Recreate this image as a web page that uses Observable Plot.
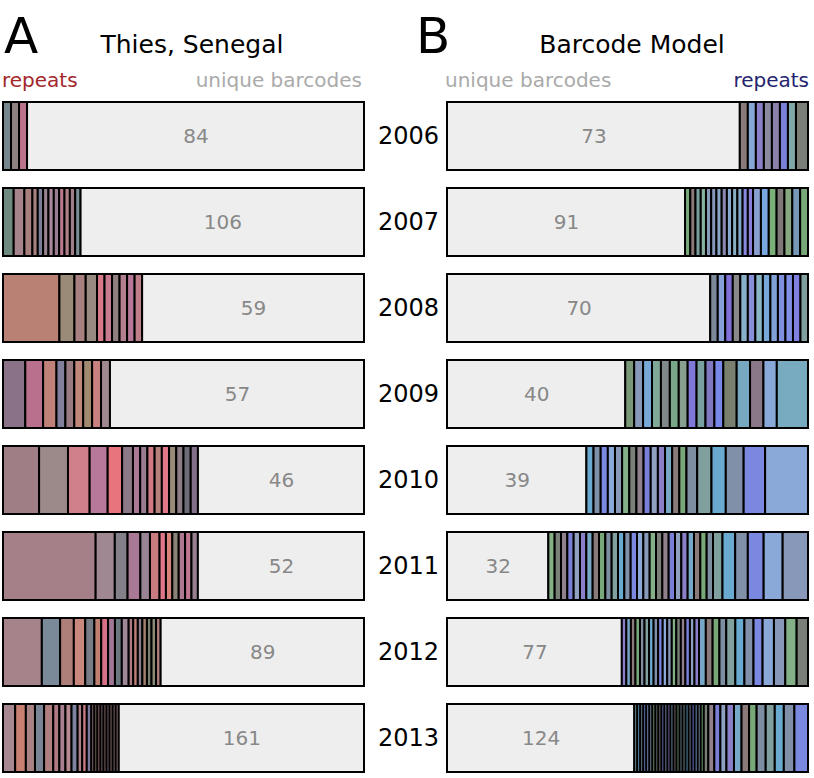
<!DOCTYPE html>
<html><head><meta charset="utf-8">
<script src="https://cdn.jsdelivr.net/npm/d3@7"></script>
<script src="https://cdn.jsdelivr.net/npm/@observablehq/plot@0.6"></script>
<style>
body{margin:0;background:#fff;font-family:"DejaVu Sans",sans-serif;}
#header{position:relative;width:814px;height:96px;}
#header span{position:absolute;white-space:nowrap;line-height:1;}
</style></head><body>
<div id="header">
 <span style="left:4px;top:11px;font-size:50px">A</span>
 <span style="left:192px;top:32px;font-size:25px;transform:translateX(-50%)">Thies, Senegal</span>
 <span style="left:416px;top:11px;font-size:50px">B</span>
 <span style="left:632px;top:32px;font-size:25px;transform:translateX(-50%)">Barcode Model</span>
 <span style="left:2px;top:70px;font-size:20px;color:#a3262b">repeats</span>
 <span style="right:452px;top:70px;font-size:20px;color:#aaaaaa">unique barcodes</span>
 <span style="left:445px;top:70px;font-size:20px;color:#aaaaaa">unique barcodes</span>
 <span style="right:5px;top:70px;font-size:20px;color:#23236e">repeats</span>
</div>
<div id="chart"></div>
<script>
// ---- data ----
const years = [2006, 2007, 2008, 2009, 2010, 2011, 2012, 2013];
const thiesUnique = [84, 106, 59, 57, 46, 52, 89, 161];
const thiesRepeats = [
  [2, 2, 2],
  [4, 4, 3, 2, 2, 2, 2, 2, 2, 2, 2, 2],
  [15, 4, 3, 3, 2, 2, 2, 2, 2, 2],
  [5, 4, 3, 2, 2, 2, 2, 2, 2],
  [10, 8, 6, 5, 4, 3, 2, 2, 2, 2, 2, 2, 2, 2, 2],
  [29, 6, 4, 4, 3, 3, 2, 2, 2, 2, 2, 2],
  [17, 8, 6, 5, 4, 3, 3, 3, 3, 3, 2, 2, 2, 2, 2, 2, 2],
  [8, 7, 6, 6, 6, 4, 4, 4, 4, 3, 3, 3, 2, 2, 2, 2, 2, 2, 2, 2, 2]
];
const modelUnique = [73, 91, 70, 40, 39, 32, 77, 124];
const modelRepeats = [
  [2, 2, 2, 2, 2, 2, 2, 3],
  [2, 2, 2, 2, 2, 2, 2, 2, 2, 2, 2, 2, 2, 3, 3, 3, 3, 3, 3, 3],
  [2, 2, 2, 2, 2, 2, 2, 2, 2, 2, 2, 2, 2],
  [2, 2, 2, 2, 2, 2, 2, 2, 2, 2, 2, 3, 3, 3, 3, 7],
  [2, 2, 2, 2, 2, 2, 2, 2, 2, 2, 2, 2, 2, 2, 3, 4, 4, 5, 6, 12],
  [2, 2, 2, 2, 2, 2, 2, 2, 2, 2, 2, 2, 2, 2, 2, 2, 2, 2, 2, 2, 2, 2, 2, 2, 2, 2, 3, 4, 4, 5, 6, 8],
  [2, 2, 2, 2, 2, 2, 2, 2, 2, 2, 2, 2, 2, 2, 2, 2, 2, 3, 3, 3, 3, 4, 4, 4, 4, 5, 5, 5, 5],
  [2, 2, 2, 2, 2, 2, 2, 2, 2, 2, 2, 2, 2, 2, 2, 2, 2, 2, 2, 2, 2, 2, 2, 3, 4, 4, 4, 5, 5, 5, 5, 6, 6, 6, 7, 9]
];

// ---- styles (segment colours, row by row; fallback palettes cycle) ----
const thiesColors = [
  ["#76868f", "#8d8280", "#b9738a"],
  ["#6f8a7e", "#a6848c", "#a8807e", "#a88080", "#7c7e98", "#9a8490", "#a8889a", "#9c7c90", "#b87a8c", "#b07f88", "#a08088", "#7a9096"],
  ["#b98074", "#9a8a78", "#a8807f", "#988a80", "#d87888", "#c87a8e", "#908080", "#b48090", "#b87898", "#c07f88"],
  ["#8a7288", "#b8708c", "#c08278", "#80809c", "#987a80", "#c0887a", "#a08a70", "#c88080", "#a08890"],
  ["#a07e86", "#9c8a8a", "#d0808a", "#b8789a", "#e8747e", "#8c7888", "#a87894", "#9a7c90", "#d07a84", "#b8807a", "#e0788a", "#9a8a78", "#8c7c84", "#6c6c78", "#84708a"],
  ["#a58088", "#a08892", "#84808a", "#a87894", "#988494", "#c87c80", "#e0788a", "#d8827a", "#8a8478", "#b07890", "#c07890", "#988090"],
  ["#a6828a", "#7a8a98", "#ae7e78", "#c8887e", "#787c84", "#c08070", "#d87088", "#a07896", "#6c7880", "#a08898", "#b07a84", "#c08078", "#8a7a8a", "#a08070", "#7c8070", "#8a8a78", "#b08080"],
  ["#a88890", "#c88070", "#a88284", "#7a8494", "#b08080", "#b07a84", "#a88090", "#b88a90", "#7c84a0", "#b08088", "#c87a80", "#7c7a9c", "#a07880", "#8a7070", "#b07878", "#907080", "#a07a7a", "#887080", "#a08078", "#907878", "#a07880"]
];
const modelColors = [
  ["#8a7a7a", "#88a8d8", "#8a80c8", "#8a8aa0", "#8a80a8", "#7a80d8", "#80a8a8", "#7a8078"],
  ["#78a878", "#8a7878", "#78a0a0", "#88b0a0", "#8898b8", "#8898b8", "#88a8c8", "#8a88b0", "#88a8d0", "#88b0c0", "#80a8c8", "#8888e0", "#8a80d8", "#8aa0d0", "#78a8e0", "#78b078", "#807878", "#88a880", "#7898b8"],
  ["#7a8898", "#88a0d8", "#8070d8", "#8a8888", "#88b0c8", "#8890d8", "#88b8c8", "#78a8d8", "#80a0d8", "#8090e0", "#8090e8", "#8080e0", "#80a0a0"],
  ["#7a9878", "#8898b8", "#78a8d8", "#80a898", "#808888", "#78a888", "#88a090", "#8078d8", "#78a0a0", "#8078c0", "#7888e8", "#7a8070", "#78a8c0", "#8a7888", "#88a8d8", "#78aac0"]
];
const modelPalette = ["#8a7a7a", "#8aa8d8", "#8a80c8", "#8090a8", "#7a80d8", "#80a0a0", "#7a8078", "#78a878", "#8898b8", "#78a8c8", "#7a88e0", "#90a0c0", "#6aaad0", "#90808c", "#7c8ea0", "#84b088"];
const uniqueFill = "#eeeeee";

// ---- build segments ----
const segs = [];
const labels = [];
years.forEach((yr, i) => {
  // Thies: repeats left, unique right
  let tot = thiesUnique[i] + d3.sum(thiesRepeats[i]);
  let c = 0;
  thiesRepeats[i].forEach((v, j) => {
    const pal = thiesColors[i];
    segs.push({panel: "A", year: yr, x1: c / tot, x2: (c + v) / tot, fill: pal[j % pal.length]});
    c += v;
  });
  segs.push({panel: "A", year: yr, x1: c / tot, x2: 1, fill: uniqueFill});
  labels.push({panel: "A", year: yr, x: (c / tot + 1) / 2, text: String(thiesUnique[i])});
  // Model: unique left, repeats right
  tot = modelUnique[i] + d3.sum(modelRepeats[i]);
  c = modelUnique[i];
  segs.push({panel: "B", year: yr, x1: 0, x2: c / tot, fill: uniqueFill});
  labels.push({panel: "B", year: yr, x: c / tot / 2, text: String(modelUnique[i])});
  modelRepeats[i].forEach((v, j) => {
    const pal = modelColors[i];
    const col = pal ? pal[j % pal.length] : modelPalette[(j * 7 + i * 3) % modelPalette.length];
    segs.push({panel: "B", year: yr, x1: c / tot, x2: (c + v) / tot, fill: col});
    c += v;
  });
});

const chart = Plot.plot({
  width: 814,
  height: 682,
  marginTop: 4,
  marginBottom: 4,
  marginLeft: 2,
  marginRight: 5,
  style: {fontFamily: "DejaVu Sans, sans-serif", background: "#fff"},
  fx: {domain: ["A", "B"], axis: null, paddingInner: 0.1865, paddingOuter: 0},
  x: {domain: [0, 1], axis: null},
  y: {domain: years, axis: null, paddingInner: 0.215, paddingOuter: 0},
  color: {type: "identity"},
  marks: [
    Plot.barX(segs, {fx: "panel", y: "year", x1: "x1", x2: "x2", fill: "fill", stroke: "black", strokeWidth: 2}),
    Plot.text(labels, {fx: "panel", y: "year", x: "x", text: "text", fill: "#888", fontSize: 20}),
    Plot.text(years.map(y => ({panel: "B", year: y})), {fx: "panel", y: "year", x: 0, dx: -39, text: d => String(d.year), fill: "black", fontSize: 24})
  ]
});
document.getElementById("chart").appendChild(chart);
</script>
</body></html>
